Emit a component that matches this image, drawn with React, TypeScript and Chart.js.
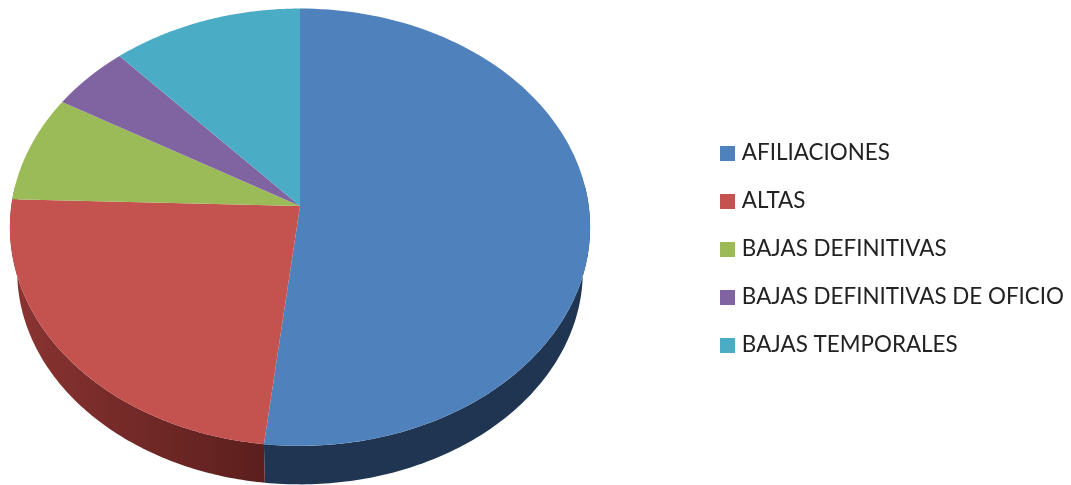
import React, { useEffect, useRef } from "react";
import { Chart, registerables } from "chart.js";

Chart.register(...registerables);

const categories = ["AFILIACIONES", "ALTAS", "BAJAS DEFINITIVAS", "BAJAS DEFINITIVAS DE OFICIO", "BAJAS TEMPORALES"];
const values = [51.8, 23.7, 7.9, 4.9, 11.7];
const faceColors = ["#4f81bd", "#c4524f", "#9bbb59", "#8064a2", "#4bacc6"];
const sideLeft = ["#1f3552", "#8a3432", "#5d7035", "#4c3c61", "#2d6776"];
const sideRight = ["#1f3552", "#5a1e1c", "#5d7035", "#4c3c61", "#2d6776"];

// view of the tilted disc
const TILT = 0.097;
const SCALE_X = 1.4015;
const SCALE_Y = 1.0515;
const DEPTH = 44.5;
const BOTTOM_SHRINK = 0.975;
const STEPS = 120;

function project(el: any, a: number, shrink = 1, drop = 0) {
  const w = 1 - TILT * Math.sin(a);
  return {
    x: el.x + (el.outerRadius * SCALE_X * shrink * Math.cos(a)) / w,
    y: el.y + drop + (el.outerRadius * SCALE_Y * shrink * Math.sin(a)) / w,
  };
}

const disc3d = {
  id: "disc3d",
  afterLayout(chart: any) {
    const area = chart.chartArea;
    area.left = 0;
    area.right = 600;
    area.top = 0;
    area.bottom = 412;
    area.width = 600;
    area.height = 412;
  },
  beforeDatasetsDraw(chart: any) {
    const ctx = chart.ctx;
    const arcs = chart.getDatasetMeta(0).data;
    ctx.save();
    arcs.forEach((el: any, i: number) => {
      const from = Math.max(el.startAngle, -0.1);
      const to = Math.min(el.endAngle, Math.PI + 0.1);
      if (to <= from) return;
      const g = ctx.createLinearGradient(el.x - 290, 0, el.x - 30, 0);
      g.addColorStop(0, sideLeft[i]);
      g.addColorStop(1, sideRight[i]);
      ctx.fillStyle = g;
      ctx.beginPath();
      for (let s = 0; s <= STEPS; s++) {
        const p = project(el, from + ((to - from) * s) / STEPS);
        s === 0 ? ctx.moveTo(p.x, p.y) : ctx.lineTo(p.x, p.y);
      }
      for (let s = STEPS; s >= 0; s--) {
        const p = project(el, from + ((to - from) * s) / STEPS, BOTTOM_SHRINK, DEPTH);
        ctx.lineTo(p.x, p.y);
      }
      ctx.closePath();
      ctx.fill();
    });
    arcs.forEach((el: any, i: number) => {
      ctx.fillStyle = faceColors[i];
      ctx.beginPath();
      ctx.moveTo(el.x, el.y);
      for (let s = 0; s <= STEPS; s++) {
        const p = project(el, el.startAngle + ((el.endAngle - el.startAngle) * s) / STEPS);
        ctx.lineTo(p.x, p.y);
      }
      ctx.closePath();
      ctx.fill();
    });
    ctx.restore();
    return false;
  },
};

function swatch(color: string) {
  const c = document.createElement("canvas");
  c.width = 15;
  c.height = 15;
  const x = c.getContext("2d")!;
  x.fillStyle = color;
  x.fillRect(0, 0, 15, 15);
  return c;
}

export default function App() {
  const ref = useRef<HTMLCanvasElement>(null);
  useEffect(() => {
    const chart = new Chart(ref.current!, {
      type: "pie",
      data: {
        labels: categories,
        datasets: [{ data: values, backgroundColor: faceColors, borderWidth: 0 }],
      },
      options: {
        responsive: false,
        animation: false,
        layout: { padding: { top: 13, right: -3 } },
        plugins: {
          tooltip: { enabled: false },
          legend: {
            position: "right",
            labels: {
              color: "#222222",
              font: { family: "Lato", size: 22.4, lineHeight: 1 },
              padding: 25.6,
              usePointStyle: true,
              pointStyleWidth: 6,
              boxHeight: 15,
              generateLabels: (c: any) =>
                Chart.overrides.pie.plugins.legend.labels.generateLabels(c).map((it: any, i: number) => ({
                  ...it,
                  pointStyle: swatch(faceColors[i]),
                })),
            },
          },
        },
      },
      plugins: [disc3d],
    } as any);
    return () => chart.destroy();
  }, []);
  return (
    <div style={{ position: "fixed", left: 0, top: 0, width: 1071, height: 485, background: "#fff" }}>
      <canvas ref={ref} width={1071} height={485} style={{ display: "block" }} />
    </div>
  );
}
